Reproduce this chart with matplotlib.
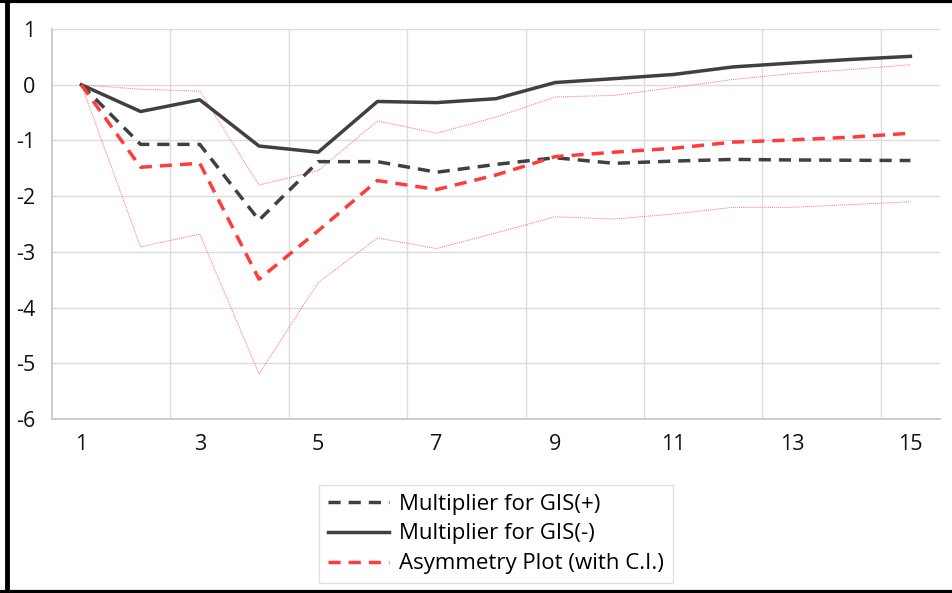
import matplotlib.pyplot as plt
from matplotlib.lines import Line2D

plt.rcParams['font.family'] = ['Open Sans', 'DejaVu Sans']
plt.rcParams['axes.unicode_minus'] = False

periods = list(range(1, 16))
gis_pos = [0, -1.07, -1.07, -2.43, -1.38, -1.38, -1.57, -1.43, -1.31, -1.41, -1.37, -1.34, -1.35, -1.355, -1.36]
gis_neg = [0, -0.48, -0.27, -1.10, -1.21, -0.30, -0.32, -0.25, 0.04, 0.11, 0.185, 0.32, 0.39, 0.455, 0.51]
asym = [0, -1.48, -1.41, -3.49, -2.62, -1.72, -1.88, -1.62, -1.29, -1.21, -1.14, -1.03, -0.99, -0.94, -0.87]
ci_upper = [0, -0.08, -0.115, -1.80, -1.54, -0.65, -0.87, -0.58, -0.22, -0.19, -0.05, 0.095, 0.20, 0.275, 0.36]
ci_lower = [0, -2.91, -2.68, -5.19, -3.55, -2.75, -2.94, -2.66, -2.37, -2.41, -2.32, -2.20, -2.20, -2.15, -2.10]

xticks = [1, 3, 5, 7, 9, 11, 13, 15]
yticks = [1, 0, -1, -2, -3, -4, -5, -6]

fig = plt.figure(figsize=(9.53, 5.93), dpi=100)
ax = fig.add_axes([0.0543, 0.2934, 0.9321, 0.6576])

dark = "#404040"
red = "#ff3b3b"

ax.plot(periods, ci_upper, color="#ff7070", lw=0.7, ls=(0, (1, 1)), zorder=2)
ax.plot(periods, ci_lower, color="#ff7070", lw=0.7, ls=(0, (1, 1)), zorder=2)
l1, = ax.plot(periods, gis_pos, color=dark, lw=2.5, ls=(0, (3.5, 2.3)), zorder=3)
l2, = ax.plot(periods, gis_neg, color=dark, lw=2.5, zorder=3)
l3, = ax.plot(periods, asym, color=red, lw=2.5, ls=(0, (3.5, 2.3)), zorder=4)

ax.set_xlim(0.5, 15.5)
ax.set_ylim(-6, 1)
ax.set_xticks(xticks)
ax.set_yticks(yticks)
ax.set_xticks([2.5, 4.5, 6.5, 8.5, 10.5, 12.5, 14.5], minor=True)
ax.grid(True, axis="y", color="#dcdcdc", lw=1)
ax.grid(True, axis="x", which="minor", color="#dcdcdc", lw=1)
ax.set_axisbelow(True)
ax.tick_params(which="both", length=0, labelsize=15.5, labelcolor="#111111")
ax.tick_params(axis="x", pad=11)
ax.tick_params(axis="y", pad=12)
for s in ["top", "right"]:
    ax.spines[s].set_visible(False)
for s in ["left", "bottom"]:
    ax.spines[s].set_color("#c8c8c8")
    ax.spines[s].set_linewidth(1.3)

leg = fig.legend([l1, l2, l3],
                 ["Multiplier for GIS(+)", "Multiplier for GIS(-)", "Asymmetry Plot (with C.I.)"],
                 loc="center", bbox_to_anchor=(0.5205, 0.0995), fontsize=16,
                 handlelength=2.75, handletextpad=0.45, frameon=True, fancybox=False,
                 edgecolor="#d9d9d9", labelspacing=0.4, borderpad=0.4)
leg.get_frame().set_linewidth(1)

# black frame on left, top and bottom
fig.add_artist(Line2D([0.0073, 0.0073], [0, 1], transform=fig.transFigure, color="black", lw=3.5))
fig.add_artist(Line2D([0, 1], [0.9975, 0.9975], transform=fig.transFigure, color="black", lw=3))
fig.add_artist(Line2D([0, 1], [0.0025, 0.0025], transform=fig.transFigure, color="black", lw=3))

plt.savefig("out.png", dpi=100)
